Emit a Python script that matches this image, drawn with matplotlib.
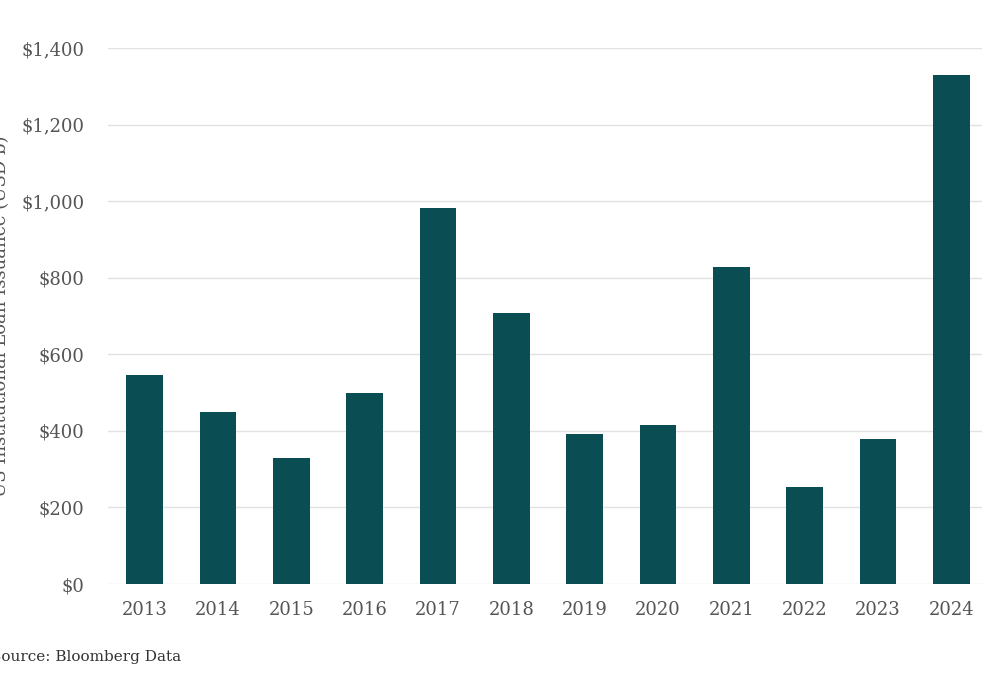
import matplotlib.pyplot as plt
from matplotlib.ticker import FuncFormatter

years = ["2013", "2014", "2015", "2016", "2017", "2018",
         "2019", "2020", "2021", "2022", "2023", "2024"]
issuance = [546, 449, 329, 499, 982, 708, 392, 415, 828, 253, 379, 1329]
y_ticks = [0, 200, 400, 600, 800, 1000, 1200, 1400]

bar_color = "#0a4e54"
text_color = "#555555"

plt.rcParams['font.family'] = ['DejaVu Serif']

fig = plt.figure(figsize=(9.82, 6.87), dpi=100)
# axes: left 108px, bottom at y=584px, top at y=48px
ax = fig.add_axes([108 / 982, 1 - 584 / 687, 880 / 982, 536 / 687])

x = list(range(len(years)))
ax.bar(x, issuance, width=0.5, color=bar_color, zorder=3)

ax.set_xlim(-0.5, 11.5)
ax.set_ylim(0, 1400)
ax.set_yticks(y_ticks)
ax.yaxis.set_major_formatter(FuncFormatter(lambda v, p: "${:,.0f}".format(v)))
ax.set_xticks(x)
ax.set_xticklabels(years)

ax.grid(axis='y', color='#e2e2e2', linewidth=1, zorder=0)
for s in ax.spines.values():
    s.set_visible(False)
ax.tick_params(axis='both', length=0, labelsize=13, colors=text_color)
ax.tick_params(axis='y', pad=17)
ax.tick_params(axis='x', pad=12)

fig.text(0.001, 1 - 316 / 687, "US Institutional Loan Issuance (USD b)",
         rotation=90, ha='center', va='center', fontsize=13, color=text_color)
fig.text(-9 / 982, 1 - 657 / 687, "Source: Bloomberg Data",
         ha='left', va='center', fontsize=11, color='#333333')

fig.savefig("out.png", dpi=100)
